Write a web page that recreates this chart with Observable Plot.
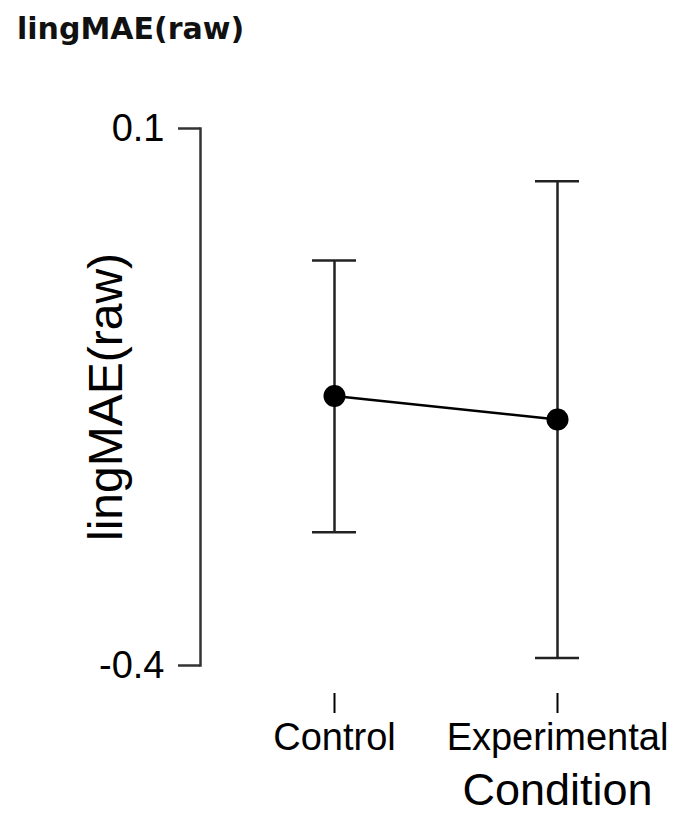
<!DOCTYPE html>
<html>
<head>
<meta charset="utf-8">
<script src="https://cdn.jsdelivr.net/npm/d3@7"></script>
<script src="https://cdn.jsdelivr.net/npm/@observablehq/plot@0.6"></script>
<style>
  html, body { margin: 0; padding: 0; background: white; }
  #title {
    box-sizing: border-box; height: 55px; padding: 14px 0 0 17px;
    font: bold 30px/30px "DejaVu Sans", Verdana, sans-serif; color: #111;
  }
  #chart svg { display: block; }
</style>
</head>
<body>
<div id="title">lingMAE(raw)</div>
<div id="chart"></div>
<script>
const conditions = ["Control", "Experimental"];
const means = [-0.149, -0.171];
const lower = [-0.276, -0.393];
const upper = [-0.023, 0.051];
const yTicks = [-0.4, 0.1];
const yLabel = "lingMAE(raw)";
const xLabel = "Condition";

const data = conditions.map((c, i) => ({condition: c, mean: means[i], lower: lower[i], upper: upper[i]}));

const chart = Plot.plot({
  width: 676,
  height: 758,
  marginLeft: 200,
  marginRight: 0,
  marginTop: 73,
  marginBottom: 148,
  style: {fontFamily: "'Liberation Sans', Arial, sans-serif", color: "black", background: "white"},
  x: {type: "band", domain: conditions, range: [312, 579], paddingInner: 0.8027, paddingOuter: 0},
  y: {domain: [-0.4, 0.1]},
  marks: [
    Plot.frame({anchor: "left", stroke: "#333", strokeWidth: 2.5}),
    Plot.axisY(yTicks, {tickSize: 22, tickPadding: 14, fontSize: 38, label: null,
      stroke: "#333", strokeWidth: 2.5, tickFormat: d => String(d)}),
    Plot.axisX({tickSize: 20, tickPadding: 10, dy: 28, fontSize: 38, label: null, strokeWidth: 2}),
    Plot.ruleX(data, {x: "condition", y1: "lower", y2: "upper", stroke: "#222", strokeWidth: 2.5}),
    Plot.tickY(data, {x: "condition", y: "lower", stroke: "#222", strokeWidth: 2.5}),
    Plot.tickY(data, {x: "condition", y: "upper", stroke: "#222", strokeWidth: 2.5}),
    Plot.line(data, {x: "condition", y: "mean", stroke: "black", strokeWidth: 2.6}),
    Plot.dot(data, {x: "condition", y: "mean", r: 11, fill: "black", stroke: "none"}),
    Plot.text([xLabel], {x: [conditions[1]], frameAnchor: "bottom", lineAnchor: "bottom", dy: 139, fontSize: 45}),
    Plot.text([yLabel], {frameAnchor: "left", textAnchor: "middle", rotate: -90, dx: -94, lineAnchor: "middle", fontSize: 48})
  ]
});
document.getElementById("chart").appendChild(chart);
</script>
</body>
</html>
